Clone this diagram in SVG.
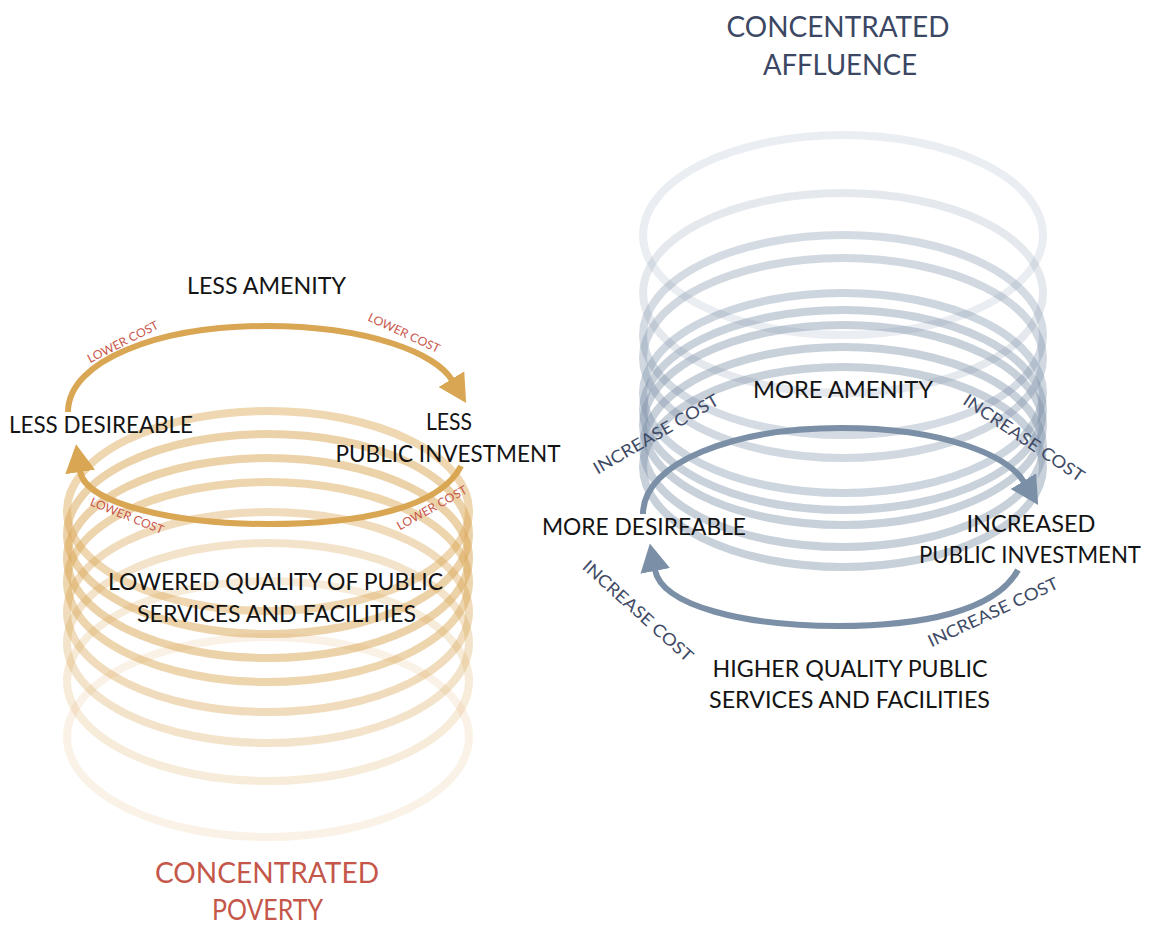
<svg xmlns="http://www.w3.org/2000/svg" width="1150" height="925" viewBox="0 0 1150 925">
<defs>
<style>
.ringP{fill:none;stroke:#d9a653;stroke-width:8}
.ringA{fill:none;stroke:#7b90a7;stroke-width:8}
.arP{fill:none;stroke:#d9a653;stroke-width:6;marker-end:url(#headP)}
.arA{fill:none;stroke:#7b90a7;stroke-width:6;marker-end:url(#headA)}
.lbl{font-family:Lato,"Liberation Sans",sans-serif;font-size:24px;fill:#141414}
.ttl{font-family:Lato,"Liberation Sans",sans-serif;font-size:29px;text-anchor:middle}
.lc{font-family:Lato,"Liberation Sans",sans-serif;font-size:12px;fill:#c8574b;text-anchor:middle}
.ic{font-family:Lato,"Liberation Sans",sans-serif;font-size:17px;fill:#3f4b66;text-anchor:middle}
.mid{text-anchor:middle}
</style>
<marker id="headP" markerUnits="userSpaceOnUse" viewBox="0 0 28 30" markerWidth="28" markerHeight="30" refX="1" refY="15" orient="auto"><path d="M0,0 L28,15 L0,30 Z" fill="#d9a653"/></marker>
<marker id="headA" markerUnits="userSpaceOnUse" viewBox="0 0 28 30" markerWidth="28" markerHeight="30" refX="1" refY="15" orient="auto"><path d="M0,0 L28,15 L0,30 Z" fill="#7b90a7"/></marker>
</defs>
<rect width="1150" height="925" fill="#ffffff"/>

<g id="stack-poverty">
<ellipse class="ringP" cx="268" cy="511" rx="201" ry="100" opacity="0.45"/>
<ellipse class="ringP" cx="268" cy="534" rx="201" ry="100" opacity="0.5"/>
<ellipse class="ringP" cx="268" cy="558" rx="201" ry="100" opacity="0.5"/>
<ellipse class="ringP" cx="268" cy="582" rx="201" ry="100" opacity="0.47"/>
<ellipse class="ringP" cx="268" cy="612" rx="201" ry="100" opacity="0.39"/>
<ellipse class="ringP" cx="268" cy="643" rx="201" ry="100" opacity="0.31"/>
<ellipse class="ringP" cx="268" cy="681" rx="201" ry="100" opacity="0.22"/>
<ellipse class="ringP" cx="268" cy="737" rx="201" ry="100" opacity="0.14"/>
</g>

<g id="stack-affluence">
<ellipse class="ringA" cx="843" cy="235" rx="200" ry="100" opacity="0.16"/>
<ellipse class="ringA" cx="843" cy="293" rx="200" ry="100" opacity="0.2"/>
<ellipse class="ringA" cx="843" cy="335" rx="200" ry="100" opacity="0.32"/>
<ellipse class="ringA" cx="843" cy="358" rx="200" ry="100" opacity="0.35"/>
<ellipse class="ringA" cx="843" cy="393" rx="200" ry="100" opacity="0.38"/>
<ellipse class="ringA" cx="843" cy="410" rx="200" ry="100" opacity="0.41"/>
<ellipse class="ringA" cx="843" cy="425" rx="200" ry="100" opacity="0.42"/>
<ellipse class="ringA" cx="843" cy="447" rx="200" ry="100" opacity="0.42"/>
<ellipse class="ringA" cx="843" cy="467" rx="200" ry="100" opacity="0.42"/>
</g>

<g id="connectors">
<path class="arP" d="M68,412 C68,360 160,326 266,326 C370,326 436,354 452,380"/>
<path class="arP" d="M461,466 C440,508 360,524 268,524 C180,524 85,505 80,471"/>
<path class="arA" d="M643,514 C643,462 735,428 841,428 C945,428 1008,456 1024,482"/>
<path class="arA" d="M1018,570 C995,612 920,626 838,626 C745,626 662,606 655,570"/>
</g>

<g id="title-poverty">
<text class="ttl" x="267" y="883" fill="#c4564a" textLength="224" lengthAdjust="spacingAndGlyphs">CONCENTRATED</text>
<text class="ttl" x="267.5" y="920" fill="#c4564a" textLength="111" lengthAdjust="spacingAndGlyphs">POVERTY</text>
</g>
<g id="title-affluence">
<text class="ttl" x="838" y="37" fill="#3b4763" textLength="223" lengthAdjust="spacingAndGlyphs">CONCENTRATED</text>
<text class="ttl" x="840" y="75" fill="#3b4763" textLength="154" lengthAdjust="spacingAndGlyphs">AFFLUENCE</text>
</g>

<g id="less-amenity"><text class="lbl mid" x="266.5" y="294" textLength="159" lengthAdjust="spacingAndGlyphs">LESS AMENITY</text></g>
<g id="less-desireable"><text class="lbl" x="9" y="433" textLength="184" lengthAdjust="spacingAndGlyphs">LESS DESIREABLE</text></g>
<g id="less-public-investment">
<text class="lbl mid" x="449" y="430" textLength="46" lengthAdjust="spacingAndGlyphs">LESS</text>
<text class="lbl mid" x="448" y="462" textLength="225" lengthAdjust="spacingAndGlyphs">PUBLIC INVESTMENT</text>
</g>
<g id="lowered-quality">
<text class="lbl mid" x="275.5" y="590" textLength="335" lengthAdjust="spacingAndGlyphs">LOWERED QUALITY OF PUBLIC</text>
<text class="lbl mid" x="276.5" y="622" textLength="279" lengthAdjust="spacingAndGlyphs">SERVICES AND FACILITIES</text>
</g>

<g id="more-amenity"><text class="lbl mid" x="843" y="398" textLength="180" lengthAdjust="spacingAndGlyphs">MORE AMENITY</text></g>
<g id="more-desireable"><text class="lbl mid" x="644" y="535" textLength="204" lengthAdjust="spacingAndGlyphs">MORE DESIREABLE</text></g>
<g id="increased-public-investment">
<text class="lbl mid" x="1031" y="532" textLength="129" lengthAdjust="spacingAndGlyphs">INCREASED</text>
<text class="lbl mid" x="1030" y="563" style="font-size:23px" textLength="222" lengthAdjust="spacingAndGlyphs">PUBLIC INVESTMENT</text>
</g>
<g id="higher-quality">
<text class="lbl mid" x="850" y="677" textLength="275" lengthAdjust="spacingAndGlyphs">HIGHER QUALITY PUBLIC</text>
<text class="lbl mid" x="849.5" y="708" textLength="281" lengthAdjust="spacingAndGlyphs">SERVICES AND FACILITIES</text>
</g>

<g id="cost-labels-poverty">
<text class="lc" transform="translate(123,342) rotate(-27)" y="4" textLength="78" lengthAdjust="spacingAndGlyphs">LOWER COST</text>
<text class="lc" transform="translate(404,333) rotate(25)" y="4" textLength="78" lengthAdjust="spacingAndGlyphs">LOWER COST</text>
<text class="lc" transform="translate(127,516) rotate(22)" y="4" textLength="78" lengthAdjust="spacingAndGlyphs">LOWER COST</text>
<text class="lc" transform="translate(432,508) rotate(-29)" y="4" textLength="78" lengthAdjust="spacingAndGlyphs">LOWER COST</text>
</g>
<g id="cost-labels-affluence">
<text class="ic" transform="translate(656,434) rotate(-30)" y="6" textLength="142" lengthAdjust="spacingAndGlyphs">INCREASE COST</text>
<text class="ic" transform="translate(1024,438) rotate(34)" y="6" textLength="142" lengthAdjust="spacingAndGlyphs">INCREASE COST</text>
<text class="ic" transform="translate(638,611) rotate(42)" y="6" textLength="142" lengthAdjust="spacingAndGlyphs">INCREASE COST</text>
<text class="ic" transform="translate(993,612) rotate(-25)" y="6" textLength="142" lengthAdjust="spacingAndGlyphs">INCREASE COST</text>
</g>
</svg>
